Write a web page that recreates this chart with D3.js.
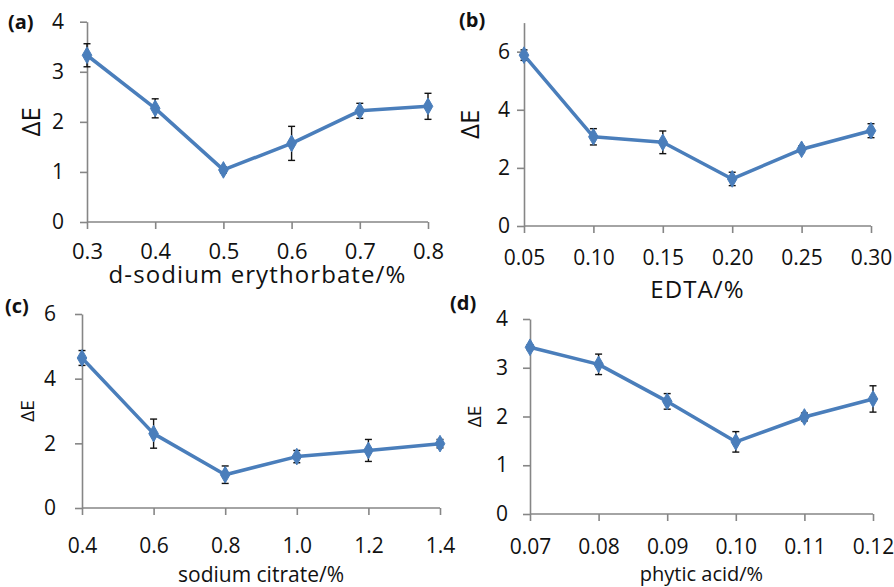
<!DOCTYPE html>
<html><head><meta charset="utf-8">
<script src="https://cdn.jsdelivr.net/npm/d3@7"></script>
<style>
body{margin:0;background:#fff;}
svg{display:block;font-family:"Open Sans",sans-serif;}
</style></head>
<body><svg id="c" width="894" height="587"></svg>
<script>
// ---- data ----
const catsA = ["0.3","0.4","0.5","0.6","0.7","0.8"];
const valsA = [3.33,2.27,1.04,1.57,2.22,2.31];
const errA  = [0.23,0.19,0.06,0.34,0.15,0.26];

const catsB = ["0.05","0.10","0.15","0.20","0.25","0.30"];
const valsB = [5.88,3.07,2.88,1.62,2.64,3.28];
const errB  = [0.18,0.28,0.39,0.23,0.11,0.24];

const catsC = ["0.4","0.6","0.8","1.0","1.2","1.4"];
const valsC = [4.64,2.30,1.03,1.59,1.78,1.99];
const errC  = [0.23,0.45,0.27,0.19,0.34,0.13];

const catsD = ["0.07","0.08","0.09","0.10","0.11","0.12"];
const valsD = [3.42,3.07,2.31,1.48,1.99,2.36];
const errD  = [0.05,0.21,0.16,0.21,0.08,0.27];

const yMaxes = [4, 7, 6, 4];
const yTicks = [[0,1,2,3,4],[0,2,4,6],[0,2,4,6],[0,1,2,3,4]];
const xTitles = ["d-sodium erythorbate/%","EDTA/%","sodium citrate/%","phytic acid/%"];
const panelLabels = ["(a)","(b)","(c)","(d)"];
const yLabel = "ΔE";

// ---- layout ----
const panels = [
  {cats:catsA, vals:valsA, err:errA, x0:87,  x1:428, y0:222, y1:21.7, tickY:253, tickSize:22, titleY:283, titleSize:24, titleLS:1.1, yLabX:33,  yLabSize:26, labX:8,   labY:29,  tlRight:64},
  {cats:catsB, vals:valsB, err:errB, x0:524, x1:871, y0:226, y1:22.6, tickY:259, tickSize:21, titleY:298, titleSize:24, titleLS:1.1, yLabX:472, yLabSize:26, labX:459, labY:27,  tlRight:510},
  {cats:catsC, vals:valsC, err:errC, x0:82,  x1:440, y0:508, y1:314,  tickY:547, tickSize:21, titleY:582, titleSize:21, titleLS:0,   yLabX:29,  yLabSize:19, labX:5,   labY:313, tlRight:56},
  {cats:catsD, vals:valsD, err:errD, x0:530, x1:873, y0:514, y1:319,  tickY:548, tickSize:21, titleY:581, titleSize:20, titleLS:0,   yLabX:476, yLabSize:19, labX:450, labY:310, tlRight:508}
];

const svg = d3.select("#c");
const lineColor = "#4a7ebb";
const axisColor = "#868686";

panels.forEach((p,i)=>{
  const g = svg.append("g");
  const x = d3.scalePoint().domain(p.cats).range([p.x0,p.x1]);
  const y = d3.scaleLinear().domain([0,yMaxes[i]]).range([p.y0,p.y1]);

  // y axis
  const ya = g.append("g").attr("transform",`translate(${p.x0},0)`)
    .call(d3.axisLeft(y).tickValues(yTicks[i]).tickSize(7).tickSizeOuter(0).tickFormat(d3.format("d")));
  ya.select(".domain").attr("stroke",axisColor).attr("stroke-width",1.6);
  ya.selectAll(".tick line").attr("stroke",axisColor).attr("stroke-width",1.6);
  ya.selectAll(".tick text").attr("x",p.tlRight - p.x0).attr("fill","#111")
    .style("font-size","21px").style("font-family","'Open Sans',sans-serif");

  // x axis
  const xa = g.append("g").attr("transform",`translate(0,${p.y0})`)
    .call(d3.axisBottom(x).tickSize(7).tickSizeOuter(0));
  xa.select(".domain").attr("stroke",axisColor).attr("stroke-width",1.6)
    .attr("d",`M${p.x0},0H${p.x1}`);
  xa.selectAll(".tick line").attr("stroke",axisColor).attr("stroke-width",1.6);
  xa.selectAll(".tick text").attr("y",null).attr("dy",null)
    .attr("transform",`translate(0,${p.tickY - p.y0})`)
    .attr("dominant-baseline","middle").attr("fill","#111")
    .style("font-size",p.tickSize+"px").style("font-family","'Open Sans',sans-serif");

  // error bars
  const eb = g.append("g").attr("stroke","#111").attr("stroke-width",1.4);
  p.cats.forEach((c,j)=>{
    const cx = x(c), yt = y(p.vals[j]+p.err[j]), yb = y(p.vals[j]-p.err[j]);
    eb.append("line").attr("x1",cx).attr("x2",cx).attr("y1",yt).attr("y2",yb);
    eb.append("line").attr("x1",cx-3.5).attr("x2",cx+3.5).attr("y1",yt).attr("y2",yt);
    eb.append("line").attr("x1",cx-3.5).attr("x2",cx+3.5).attr("y1",yb).attr("y2",yb);
  });

  // line
  const line = d3.line().x((d,j)=>x(p.cats[j])).y(d=>y(d));
  g.append("path").datum(p.vals).attr("d",line).attr("fill","none")
    .attr("stroke",lineColor).attr("stroke-width",3.5).attr("stroke-linejoin","round");

  // markers
  g.selectAll(".mk").data(p.vals).enter().append("path")
    .attr("d",d3.symbol().type(d3.symbolDiamond).size(80))
    .attr("transform",(d,j)=>`translate(${x(p.cats[j])},${y(d)})`)
    .attr("fill",lineColor).attr("stroke",lineColor).attr("stroke-width",1);

  // axis title
  g.append("text").attr("x",(p.x0+p.x1)/2).attr("y",p.titleY).attr("text-anchor","middle")
    .attr("fill","#111").style("font-size",p.titleSize+"px")
    .style("letter-spacing",p.titleLS+"px").text(xTitles[i]);

  // y label
  g.append("text").attr("transform",`translate(${p.yLabX},${(p.y0+p.y1)/2}) rotate(-90)`)
    .attr("text-anchor","middle").attr("dominant-baseline","middle")
    .attr("fill","#111").style("font-size",p.yLabSize+"px").text(yLabel);

  // panel label
  g.append("text").attr("x",p.labX).attr("y",p.labY).attr("fill","#111")
    .style("font-size","20px").style("font-weight","bold").text(panelLabels[i]);
});
</script></body></html>
